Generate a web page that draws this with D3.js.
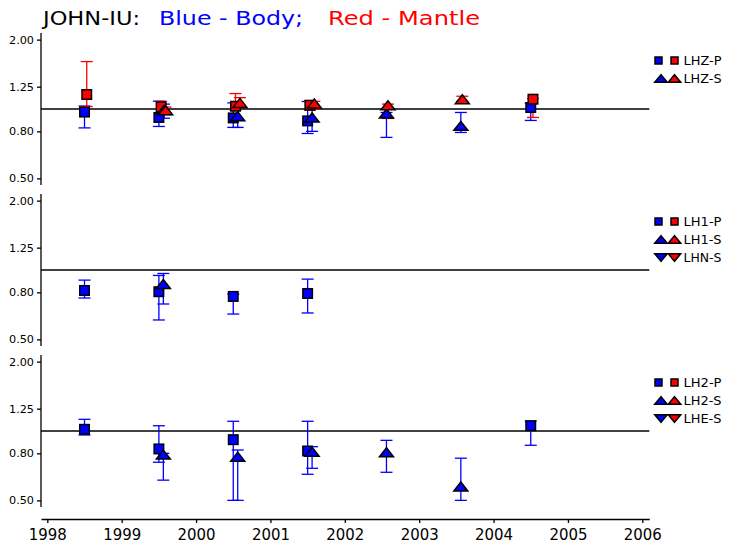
<!DOCTYPE html>
<html><head><meta charset="utf-8">
<script src="https://cdn.jsdelivr.net/npm/d3@7"></script>
<style>body{margin:0;background:#fff}svg{display:block}</style>
</head><body>
<svg id="c" width="733" height="551"></svg>
<script>
// ---- data ----
const years = [1998, 1999, 2000, 2001, 2002, 2003, 2004, 2005, 2006];
const yTicks = [0.50, 0.80, 1.25, 2.00];
const yTickLabels = ["0.50", "0.80", "1.25", "2.00"];
// rows: [decimal year, value, lower, upper]
const lhzPBody   = [[1998.50,0.970,0.828,1.030],[1999.50,0.919,0.840,1.081],[2000.50,0.915,0.832,1.063],[2001.50,0.888,0.783,1.078],[2004.50,1.015,0.892,1.060]];
const lhzPMantle = [[1998.53,1.156,1.025,1.606],[1999.53,1.021,0.950,1.080],[2000.53,1.028,0.990,1.167],[2001.53,1.039,0.988,1.080],[2004.53,1.103,0.919,1.110]];
const lhzSBody   = [[1999.57,0.990,0.912,1.050],[2000.56,0.931,0.832,1.060],[2001.56,0.919,0.800,1.070],[2002.56,0.956,0.753,0.966],[2003.56,0.845,0.791,0.966]];
const lhzSMantle = [[1999.59,0.988,0.960,1.020],[2000.59,1.063,1.020,1.120],[2001.59,1.056,1.000,1.080],[2002.58,1.039,0.910,1.050],[2003.58,1.103,1.080,1.136]];
const lh1PBody   = [[1998.50,0.815,0.756,0.904],[1999.50,0.805,0.607,0.947],[2000.50,0.768,0.644,0.786],[2001.50,0.791,0.651,0.913]];
const lh1SBody   = [[1999.56,0.869,0.712,0.966]];
const lh2PBody   = [[1998.50,1.017,0.961,1.124],[1999.50,0.836,0.732,1.054],[2000.50,0.917,0.500,1.102],[2001.50,0.819,0.649,1.102],[2004.50,1.054,0.867,1.105]];
const lh2SBody   = [[1999.56,0.790,0.612,0.800],[2000.56,0.774,0.500,0.827],[2001.56,0.813,0.689,0.855],[2002.56,0.808,0.662,0.911],[2003.56,0.574,0.500,0.762]];
const legend1 = [["sq","LHZ-P"],["up","LHZ-S"]];
const legend2 = [["sq","LH1-P"],["up","LH1-S"],["dn","LHN-S"]];
const legend3 = [["sq","LH2-P"],["up","LH2-S"],["dn","LHE-S"]];

// ---- layout ----
const BLUE = "#0000ff", RED = "#ff0000";
const svg = d3.select("#c");
const x = d3.scaleLinear().domain([1997.915, 2006.094]).range([41, 649.3]);
const panels = [
  {top: 33,  series: [[lhzPBody,"sq",BLUE],[lhzPMantle,"sq",RED],[lhzSBody,"up",BLUE],[lhzSMantle,"up",RED]], legend: legend1},
  {top: 194, series: [[lh1PBody,"sq",BLUE],[lh1SBody,"up",BLUE]], legend: legend2},
  {top: 355, series: [[lh2PBody,"sq",BLUE],[lh2SBody,"up",BLUE]], legend: legend3}
];
const FONT = "DejaVu Sans, sans-serif";

function marker(g, type, cx, cy, color, sqs, tw, th) {
  if (type === "sq") {
    g.append("rect").attr("x", cx - sqs/2).attr("y", cy - sqs/2).attr("width", sqs).attr("height", sqs)
      .attr("fill", color).attr("stroke", "#000").attr("stroke-width", 1.5);
  } else {
    const s = type === "up" ? 1 : -1;
    const p = `M${cx - tw/2},${cy + s*th/2}L${cx + tw/2},${cy + s*th/2}L${cx},${cy - s*th/2}Z`;
    g.append("path").attr("d", p).attr("fill", color).attr("stroke", "#000").attr("stroke-width", 1.5).attr("stroke-linejoin", "miter");
  }
}

panels.forEach(pn => {
  const bottom = pn.top + 152;
  const y = d3.scaleLog().domain([0.468, 2.137]).range([bottom, pn.top]);
  const g = svg.append("g");
  // y axis
  const ax = g.append("g").attr("transform", "translate(41,0)")
    .call(d3.axisLeft(y).tickValues(yTicks).tickFormat((d,i) => yTickLabels[i]).tickSize(4).tickPadding(3));
  ax.select(".domain").attr("d", `M0,${pn.top}V${bottom}`).attr("stroke", "#000").attr("stroke-width", 1.3);
  ax.selectAll(".tick line").attr("stroke", "#000").attr("stroke-width", 1.3);
  ax.selectAll(".tick text").attr("font-family", FONT).attr("font-size", 11).attr("fill", "#000")
    .attr("textLength", 25).attr("lengthAdjust", "spacingAndGlyphs");
  // reference line at 1
  g.append("line").attr("x1", x.range()[0]).attr("x2", x.range()[1]).attr("y1", y(1)).attr("y2", y(1))
    .attr("stroke", "#000").attr("stroke-width", 1.5);
  // error bars
  pn.series.forEach(([data, type, color]) => {
    data.forEach(d => {
      const cx = x(d[0]);
      g.append("line").attr("x1", cx).attr("x2", cx).attr("y1", y(d[2])).attr("y2", y(d[3]))
        .attr("stroke", color).attr("stroke-width", 1.3);
      [d[2], d[3]].forEach(v => g.append("line").attr("x1", cx - 6).attr("x2", cx + 6).attr("y1", y(v)).attr("y2", y(v))
        .attr("stroke", color).attr("stroke-width", 1.3));
    });
  });
  // markers
  pn.series.forEach(([data, type, color]) => {
    data.forEach(d => marker(g, type, x(d[0]), y(d[1]), color, 9.5, 14, 9));
  });
  // legend
  pn.legend.forEach(([type, label], i) => {
    const ly = pn.top + 27.5 + i * 18;
    if (type === "sq") {
      marker(g, "sq", 658.5, ly, BLUE, 7, 0, 0);
      marker(g, "sq", 674.5, ly, RED, 7, 0, 0);
    } else {
      marker(g, type, 661, ly, BLUE, 0, 12.5, 7.5);
      marker(g, type, 674.5, ly, RED, 0, 12.5, 7.5);
    }
    g.append("text").attr("x", 683.5).attr("y", ly + 4.3).text(label)
      .attr("font-family", FONT).attr("font-size", 11.5).attr("fill", "#000")
      .attr("textLength", 38).attr("lengthAdjust", "spacingAndGlyphs");
  });
});

// x axis
const xa = svg.append("g").attr("transform", "translate(0,519)")
  .call(d3.axisBottom(x).tickValues(years).tickFormat(d3.format("d")).tickSize(4).tickSizeOuter(0).tickPadding(6));
xa.select(".domain").attr("stroke", "#000").attr("stroke-width", 1.3);
xa.selectAll(".tick line").attr("stroke", "#000").attr("stroke-width", 1.3);
xa.selectAll(".tick text").attr("font-family", FONT).attr("font-size", 15).attr("fill", "#000")
  .attr("textLength", 38).attr("lengthAdjust", "spacingAndGlyphs");

// title
const titleParts = [["JOHN-IU:", "#000", 43, 97], ["Blue - Body;", BLUE, 159, 144], ["Red - Mantle", RED, 328, 152]];
titleParts.forEach(([t, c, tx, tl]) => {
  svg.append("text").attr("x", tx).attr("y", 25).text(t).attr("fill", c)
    .attr("font-family", FONT).attr("font-size", 20)
    .attr("textLength", tl).attr("lengthAdjust", "spacingAndGlyphs");
});
</script>
</body></html>
